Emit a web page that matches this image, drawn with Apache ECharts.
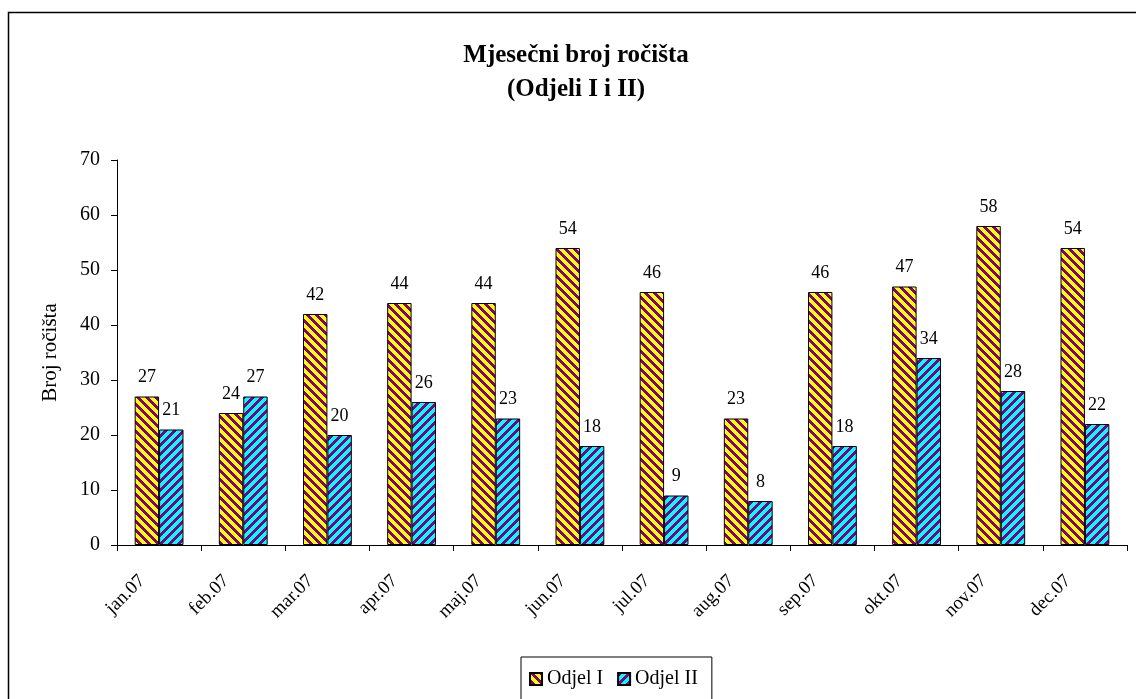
<!DOCTYPE html>
<html>
<head>
<meta charset="utf-8">
<script src="https://cdn.jsdelivr.net/npm/echarts@6/dist/echarts.min.js"></script>
<style>
html,body{margin:0;padding:0;background:#fff;}
#chart{width:1136px;height:699px;}
</style>
</head>
<body>
<div id="chart"></div>
<script>
const categories = ['jan.07','feb.07','mar.07','apr.07','maj.07','jun.07','jul.07','aug.07','sep.07','okt.07','nov.07','dec.07'];
const odjelI = [27,24,42,44,44,54,46,23,46,47,58,54];
const odjelII = [21,27,20,26,23,18,9,8,18,34,28,22];
const yTicks = [0,10,20,30,40,50,60,70];
const seriesNames = ['Odjel I','Odjel II'];

function makePattern(bg, fg, dir) {
  const c = document.createElement('canvas');
  const n = 9;
  c.width = n; c.height = n;
  const ctx = c.getContext('2d');
  ctx.fillStyle = bg;
  ctx.fillRect(0,0,n,n);
  ctx.fillStyle = fg;
  for (let x = 0; x < n; x++) {
    for (let y = 0; y < n; y++) {
      const k = dir === 'back' ? ((x - y) % n + n) % n : (x + y) % n;
      if (k < 4) ctx.fillRect(x, y, 1, 1);
    }
  }
  return c;
}
const patYellow = {image: makePattern('#FFFF00', '#800080', 'back'), repeat: 'repeat'};
const patCyan = {image: makePattern('#00FFFF', '#800080', 'fwd'), repeat: 'repeat'};

const FONT = 'Liberation Serif';
const chart = echarts.init(document.getElementById('chart'));
chart.setOption({
  animation: false,
  backgroundColor: '#fff',
  textStyle: {fontFamily: FONT, color: '#000'},
  title: {
    text: 'Mjesečni broj ročišta\n(Odjeli I i II)',
    left: 571,
    top: 34,
    textAlign: 'center',
    textStyle: {fontFamily: FONT, fontSize: 25, fontWeight: 'bold', color: '#000', lineHeight: 34}
  },
  graphic: [{
    type: 'rect',
    shape: {x: 8.5, y: 12.5, width: 1300, height: 900},
    style: {fill: null, stroke: '#000', lineWidth: 1.5},
    silent: true,
    z: 100
  }],
  legend: {
    data: seriesNames,
    left: 521,
    top: 657,
    orient: 'horizontal',
    borderColor: '#000',
    borderWidth: 1,
    borderRadius: 0,
    padding: [12, 14, 14, 8],
    itemWidth: 12,
    itemHeight: 12,
    itemGap: 14,
    icon: 'rect',
    textStyle: {fontFamily: FONT, fontSize: 20, color: '#000', padding: [0,0,0,0]}
  },
  grid: {left: 117, right: 9, top: 160, bottom: 154, containLabel: false},
  xAxis: {
    type: 'category',
    data: categories,
    axisLine: {lineStyle: {color: '#000', width: 1}},
    axisTick: {show: true, length: 6, inside: false, lineStyle: {color: '#000'}},
    axisLabel: {rotate: 45, fontFamily: FONT, fontSize: 19, color: '#000', margin: 16, padding: [0, 24, 0, 0]}
  },
  yAxis: {
    type: 'value',
    min: 0, max: 70, interval: 10,
    name: 'Broj ročišta',
    nameLocation: 'middle',
    nameRotate: 90,
    nameGap: 56,
    nameTextStyle: {fontFamily: FONT, fontSize: 21, color: '#000'},
    splitLine: {show: false},
    axisLine: {show: true, lineStyle: {color: '#000', width: 1}},
    axisTick: {show: true, length: 6, lineStyle: {color: '#000'}},
    axisLabel: {fontFamily: FONT, fontSize: 20, color: '#000', margin: 17,
      formatter: v => yTicks.includes(v) ? String(v) : ''}
  },
  series: [
    {
      name: seriesNames[0], type: 'bar', data: odjelI,
      barGap: '0%', barCategoryGap: '42%',
      itemStyle: {color: patYellow, borderColor: '#000', borderWidth: 1},
      label: {show: true, position: 'top', distance: 10, fontFamily: FONT, fontSize: 18, color: '#000'}
    },
    {
      name: seriesNames[1], type: 'bar', data: odjelII,
      barGap: '0%', barCategoryGap: '42%',
      itemStyle: {color: patCyan, borderColor: '#000', borderWidth: 1},
      label: {show: true, position: 'top', distance: 10, fontFamily: FONT, fontSize: 18, color: '#000'}
    }
  ]
});
</script>
</body>
</html>
